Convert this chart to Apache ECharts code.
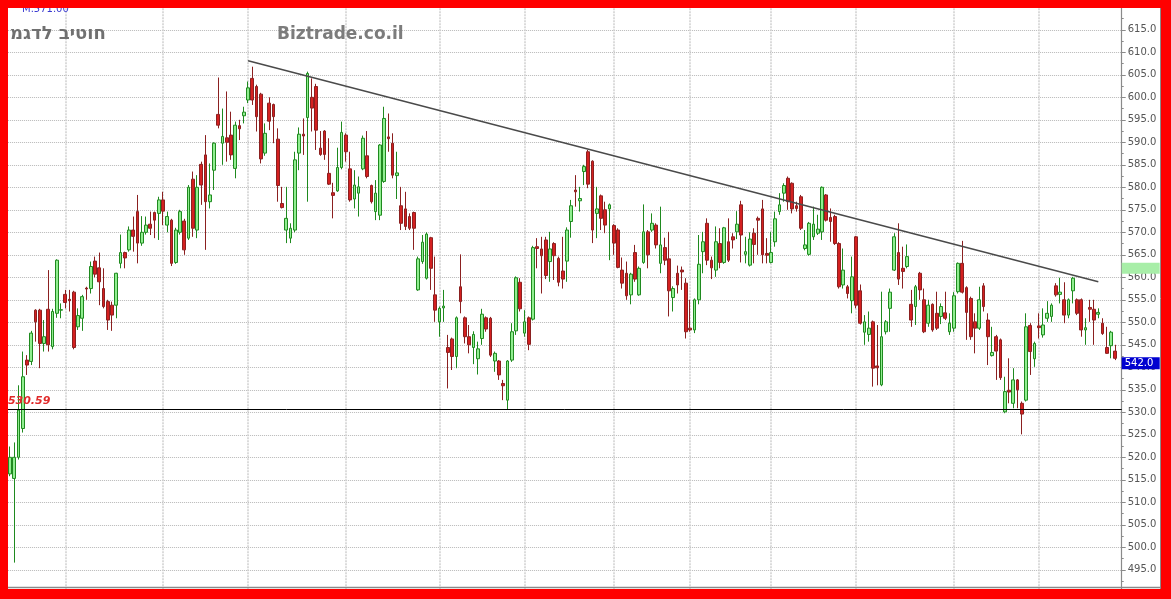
<!DOCTYPE html>
<html>
<head>
<meta charset="utf-8">
<script src="https://cdn.jsdelivr.net/npm/echarts@6/dist/echarts.min.js"></script>
<style>html,body{margin:0;padding:0;background:#fff;}#c{width:1171px;height:599px;}</style>
</head>
<body>
<div id="c"></div>
<script>
// ---- data ----
const opens = [516.3,515.3,520,526.4,541.6,541.3,552.7,552.7,545.3,552.9,544.6,552,552.7,556.2,555.1,556.7,549,550.9,557.6,557.5,563.6,562.1,557.5,554.6,553.8,553.8,563.1,565.5,566.1,570.5,574.6,567.6,570,571.8,574.4,574.2,577.2,571.6,572.7,563.3,570,572.5,568.7,581.8,
570.5,585.1,587.2,576.8,583.8,596.2,589.8,591,591.6,584.2,593.7,595.9,599.4,604.2,602.4,600.7,587.6,598.7,598.4,590.7,576.4,570.5,568.7,570.5,587.6,591.8,595.5,600,602.4,588.7,592.5,583.1,578.8,579.2,584.4,591.6,584.1,577.4,578.7,584.1,587,580.4,574.6,
573.8,581.3,591.2,589.8,582.6,575.9,575.2,573.5,574.4,557.2,563.5,559.8,568.8,556.1,550.1,553.2,544.4,546.3,542.4,557.9,551,546.8,544.4,541.9,546.4,551,550.9,541.4,541.4,536.4,532.7,541.6,548.1,558.9,547.6,551,550.7,566.8,566.3,568.3,563.5,567.5,564.2,561.4,
563.6,572.4,579.4,577,583.5,587.9,585.8,574.2,578.1,575,575.2,571.5,570.5,561.6,560.9,556.1,565.5,556.1,563.3,570.1,570.5,571.6,563.1,566.6,564.1,555.5,560.9,561.6,558.7,548.7,548.3,555,565.7,572,563.8,561.6,567.5,563.3,567.9,569,570.1,576.1,565.1,
562.7,569.8,573.1,575.2,565.3,563.3,567.9,574.6,578.7,582,580.9,575.9,577.9,566.4,565.1,569,569.8,570.1,578.3,573.3,573.5,567.5,558.3,557.9,554.8,569,557,547.8,547.3,550.1,540.3,536.1,547.9,553.1,561.6,565.5,562,562.4,554,553.5,560.9,555,549.8,554,
552,551.3,552.1,547.9,548.7,556.8,563.1,557.7,555.3,550.1,548.7,558.1,550.5,542.6,546.8,546.1,530.1,534.9,532,537.2,532,532.7,549.3,541.9,549.2,547.2,550.9,551.3,558.1,556.2,555,551.6,557,555,555,548.3,553.3,552.9,551.8,549.8,544.4,544.8,543.6];
const closes = [520,520,530.5,537.9,540.5,547.6,550.1,545.3,546.8,545,552.4,563.8,552.8,554.4,554.8,544.4,551.5,555.7,557.4,562.4,560.7,559,553.5,550.5,551.6,560.9,565.5,564.3,570.5,569.1,567.6,570,571.6,570.9,572.7,577.2,574.7,573.5,563.1,570.5,574.6,566.1,580,570.9,
580,580.5,576.8,578.3,589.8,593.8,591.3,590,587.2,593.8,593,596.7,602.1,599.4,595.7,586.3,592,594.7,595.7,580.4,575.5,573.1,570.9,586.1,591.8,591.4,605.3,597.6,592.7,587.3,587.3,580.7,578.2,584.4,592.2,587.9,577.2,580.5,580.1,590.9,582.4,576.8,578.7,
589.4,595.3,590.8,582.7,583.2,572,571.3,570.9,570.9,564.1,567.8,569.6,562,552.7,553.1,553.6,543.3,542.4,551,554.6,546.8,545,547.3,544.1,551.8,548.5,542.7,543.1,538.3,535.9,541.4,547.9,559.9,553,550.1,545.1,566.6,566.4,564.8,560.4,566.3,564.8,558.9,559.6,
570.5,575.9,579,577.5,584.6,580.7,570.5,575.2,573.1,571.6,576.1,567.6,562.2,558.7,555.9,560.7,559.6,562,570.1,565,572,567.2,567.2,563.8,557,557.5,558.3,561.2,547.9,548.3,555,562.9,567.9,563.8,562.1,567.9,563.3,571,563.8,568.3,571.8,569.4,565.7,
568.5,567.3,572.7,565,564.9,565.5,573,576.1,580.4,576.8,575.2,575.3,570.9,567.2,572,571.8,570.7,580,572.7,572.4,567.5,557.9,561.6,556.4,560.1,553.8,549.8,550.1,548.7,539.8,539.9,546.8,550.1,556.7,569,559.6,561.3,564.6,550.5,557.9,557.2,547.9,553.8,548.3,
548.7,553.5,550.9,549.8,555.9,563.1,556.7,552.2,546.8,548.7,555,553.5,546.8,543.3,543.6,537.7,534.6,534.5,537.2,535,529.6,549,543.5,545.3,548.8,549.4,552,553.8,556.1,556.7,551.6,555,559.8,552,548.3,548.8,552.9,550.5,552.2,547.5,543.1,547.8,542.0];
const lows = [515.8,496.6,519.5,525.5,538.3,540.5,545.7,539.8,543.5,543.5,544,551,550.9,553.1,552.4,544,548.3,548.1,555,556.4,560,553.8,553.1,548.3,548.1,550.9,562,562,565.7,565.7,563.1,567,569.5,569.4,568.7,568.3,571.6,570,562.5,563,569.5,565,568.3,569,
568.7,576.1,566.1,575.3,579.4,593.1,585,585.7,586.1,582,590.5,594.2,598.7,598.3,592.4,585.3,587,592.7,589.8,576.8,575.3,567.6,567.6,570,583.8,587.2,576.8,592.4,588.3,587,586.1,580.5,573.1,579,584,585.7,576.8,575.3,573.5,583.8,582,576.4,572.7,
572.7,581,587.9,582,577.4,570.5,570.5,570.5,566.1,557,563,559.5,557.2,550.1,546.8,550.1,535.3,539.4,539.8,552,545.3,543.1,540.7,538.4,545,547.9,542.3,539,537.2,532.7,530.7,541.2,547.2,552.4,546.8,543.8,550.4,562,556.4,559.6,559,559.4,558,557.5,
559,568.8,575.7,574.6,580.5,579.8,567.6,568.7,570.5,569.8,563.8,565,562,557.5,555,554,559,555.9,563,562,570.1,566.4,560.9,562.7,551.3,552.4,556.4,557.2,546.4,547.9,547.6,554,560.9,562.7,559.6,560.1,562,563,563.4,566.4,568.5,563.3,563.1,
562.4,563.1,565,563.1,563.1,563.1,566.8,573.9,576.8,575,574.2,574.6,570.5,566,564.8,568.3,569.4,568.3,572.4,567.9,567.2,557.5,557.5,555.3,552,553.1,549.5,545,545.7,535.7,536,535.8,547.3,547.9,561.4,558.3,557.5,562,549,549.4,555,547.6,549,547.9,
548.3,549.6,550.5,547.2,547.9,556.4,556.4,546.1,546.1,543.1,548.3,552.4,540.5,542.4,537.2,537.2,529.8,532,530.9,530.9,525.1,532.4,538.3,540.1,546.4,546.6,550.1,550.1,555.7,554.2,549.8,550.9,554.2,551.6,546.8,545,550.1,545,550.9,547.2,543,542,541.6];
const highs = [522.4,523.3,536,543.5,542.7,548.1,552.9,553,550.5,561.6,553,564,554.2,557.2,557.2,557,553.1,556.1,557.9,563.5,564.6,565.5,562,555,554.6,561,569.5,565.7,571.3,573.5,578.3,573.6,573.5,574.6,574.6,577.9,579,574.6,573,571,575,573,580.5,583.5,
582.7,585.7,591.6,585.3,590,604.4,597.5,601.3,596.8,594.6,595,597.9,603.5,606.8,602.8,601,594.2,600,598.6,593.1,580.1,580.1,572,587.9,593.3,595.3,605.7,604.2,603,592.5,592.7,590.9,581,588.8,594.6,592,587.9,583.8,582.4,591.5,592.5,580.6,581.6,
589.6,597.9,596.4,592,587.9,580.1,579,574.2,574.6,564.6,569.4,570,569,564.6,553.5,557.2,547.2,546.6,551.3,565.1,551.3,549.4,548,545.7,553,551.3,551.2,543.5,541.6,537.2,541.6,549.8,560.2,559.8,552.7,551.3,567,568.7,569,569,570.1,567.8,564.6,569,
571.1,577.2,582.7,580.1,585,588.3,586,580.1,578.4,576.8,576.4,571.8,570.9,564.4,563.5,561,567.2,562.4,576.2,570.5,574.2,572,575.7,568.8,570.1,558,562.6,562.4,559.8,555,555.3,569.4,570.1,573.1,564.6,571.3,570.9,571.2,573.1,569.8,574.7,577,569,
570,570.9,573.5,577.2,568.7,570.1,574.6,578.7,580.9,582.4,581.1,576.8,578.3,570.5,572.3,575.7,573.9,580.2,578.5,575.3,573.9,567.8,566.4,558.3,564.6,569.2,558.4,551.6,552.4,550.4,549.4,556.8,550.5,557.5,569.8,572,566.8,567.3,557.2,558.3,561.2,557.5,555,554.2,
556.8,554.2,556.8,552,556.7,563.3,568.1,558,555.7,552,557.9,558.7,552,549,547.2,546.4,537.9,542,539.8,537.4,532.4,552,549.8,545.7,552,553.1,554.7,554.2,558.7,559.9,558.9,555.3,560.1,555.3,555.3,550.9,555,555,553.1,550.9,549,548.1,545];
const monthStartIdx = [13, 36, 56, 79, 101, 121, 142, 160, 179, 199, 222, 242];
const trendStart = [56, 608.1];
const trendEnd = [256, 559.0];
const supportLevel = 530.59;
const markerLevel = 562.0;
const yTicks = {min: 490, max: 620, step: 5, labelMin: 495, labelMax: 615};
const categories = opens.map((_, i) => 'D' + (i + 1)).concat(['']);
const stockName = 'מגדל ביטוח';
const siteName = 'Biztrade.co.il';
const topNote = 'M.571.00';

const candleData = opens.map((o, i) => [o, closes[i], lows[i], highs[i]]);
const lastClose = closes[closes.length - 1];

const chart = echarts.init(document.getElementById('c'), null, {renderer: 'canvas'});
const FONT = 'DejaVu Sans';
const NOLINE = {color: 'rgba(0,0,0,0)', width: 0};
const option = {
  animation: false,
  backgroundColor: '#ffffff',
  grid: {left: 7.9, right: 49.3, top: 7.3, bottom: 6.7, containLabel: false},
  xAxis: {
    type: 'category', data: categories, boundaryGap: true,
    axisLine: {show: false}, axisTick: {show: false}, axisLabel: {show: false}, splitLine: {show: false}
  },
  yAxis: {
    type: 'value', position: 'right', min: yTicks.min, max: yTicks.max, interval: yTicks.step, scale: true,
    axisLine: {show: true, lineStyle: {color: '#8a8a8a', width: 1.2}},
    axisTick: {show: true, length: 4, lineStyle: {color: '#8a8a8a'}},
    minorTick: {show: true, splitNumber: 2, length: 2, lineStyle: {color: '#8a8a8a'}},
    axisLabel: {
      color: '#555', fontSize: 10, fontFamily: FONT, margin: 6,
      formatter: v => (v < yTicks.labelMin || v > yTicks.labelMax) ? '' : v.toFixed(1)
    },
    splitLine: {show: true, lineStyle: {color: '#b8b8b8', type: 'dotted', width: 1}}
  },
  series: [
    {
      type: 'line', data: [], z: 1, silent: true,
      markLine: {
        silent: true, symbol: 'none', animation: false, z: 1,
        label: {show: false},
        lineStyle: {color: '#d0d0d0', width: 1.5, type: [2, 1]},
        data: monthStartIdx.map(i => ({xAxis: categories[i]}))
      }
    },
    {
      type: 'candlestick', data: candleData, barWidth: 3.2, z: 3,
      itemStyle: {color: '#90ee90', color0: '#d42020', borderColor: '#1f8a1f', borderColor0: '#8b2020', borderWidth: 1},
      markLine: {
        silent: true, symbol: 'none', animation: false,
        data: [
          {
            yAxis: supportLevel,
            lineStyle: {color: '#000', width: 1, type: 'solid'},
            label: {show: true, position: 'insideStartTop', formatter: supportLevel.toFixed(2), color: '#e02a2a',
              fontStyle: 'italic', fontWeight: 'bold', fontSize: 11, fontFamily: FONT, distance: [0, 3]}
          },
          [
            {coord: [categories[trendStart[0]], trendStart[1]], lineStyle: {color: '#4a4a4a', width: 1.5, type: 'solid'}, label: {show: false}},
            {coord: [categories[trendEnd[0]], trendEnd[1]]}
          ],
          {
            yAxis: lastClose,
            lineStyle: NOLINE,
            label: {show: true, position: 'end', distance: 0, formatter: lastClose.toFixed(1), color: '#fff',
              backgroundColor: '#0000d0', fontSize: 10, fontFamily: FONT, width: 32, height: 10, padding: [1, 3, 1, 3],
              lineHeight: 10, align: 'left', verticalAlign: 'middle', offset: [0, 5]}
          },
          {
            yAxis: markerLevel,
            lineStyle: NOLINE,
            label: {show: true, position: 'end', distance: 0, formatter: ' ', backgroundColor: '#a8eea8',
              width: 38, height: 11, padding: 0, align: 'left', verticalAlign: 'middle', fontSize: 10}
          }
        ]
      }
    }
  ],
  graphic: [
    {type: 'text', left: 22, top: 4, z: 50, style: {text: topNote, fill: '#3a3ad0', font: '10px "DejaVu Sans"'}},
    {type: 'text', left: 10, top: 25, z: 50, style: {text: '\u202D' + stockName + '\u202C', fill: '#707070', font: 'bold 18px "DejaVu Sans"'}},
    {type: 'text', left: 277, top: 26, z: 50, style: {text: siteName, fill: '#7c7c7c', font: 'bold 17px "DejaVu Sans"'}},
    {type: 'line', z: 60, shape: {x1: 8, y1: 587.5, x2: 1161, y2: 587.5}, style: {stroke: '#8a8a8a', lineWidth: 1.5}},
    {type: 'line', z: 60, shape: {x1: 1160.5, y1: 8, x2: 1160.5, y2: 589}, style: {stroke: '#8a8a8a', lineWidth: 1}},
    {type: 'rect', z: 100, shape: {x: 0, y: 0, width: 8, height: 599}, style: {fill: '#ff0000'}},
    {type: 'rect', z: 100, shape: {x: 0, y: 0, width: 1171, height: 8}, style: {fill: '#ff0000'}},
    {type: 'rect', z: 100, shape: {x: 1161, y: 0, width: 10, height: 599}, style: {fill: '#ff0000'}},
    {type: 'rect', z: 100, shape: {x: 0, y: 589, width: 1171, height: 10}, style: {fill: '#ff0000'}}
  ]
};
chart.setOption(option);
</script>
</body>
</html>
